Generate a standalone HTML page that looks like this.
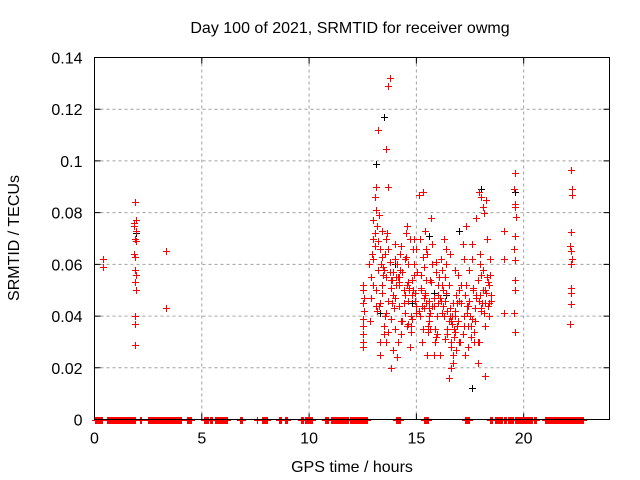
<!DOCTYPE html>
<html><head><meta charset="utf-8"><style>
body{margin:0;background:#fff;}
svg{display:block;font-family:"Liberation Sans",sans-serif;}
#red path,#black path{shape-rendering:crispEdges;}
</style></head><body>
<svg id="chart" width="640" height="480" viewBox="0 0 640 480" xmlns="http://www.w3.org/2000/svg">
<rect width="640" height="480" fill="#fff"/>
<text x="350" y="33" font-size="16" text-anchor="middle" fill="#000">Day 100 of 2021, SRMTID for receiver owmg</text>
<text transform="translate(19,238) rotate(-90)" font-size="16" text-anchor="middle" fill="#000">SRMTID / TECUs</text>
<text x="352" y="472" font-size="16" text-anchor="middle" fill="#000">GPS time / hours</text>
<g id="grid"></g>
<g id="ticks"></g>
<g id="black"></g>
<g id="red"></g>
<rect x="94.5" y="57.5" width="515" height="362" fill="none" stroke="#000" stroke-width="1"/>
</svg>
<script>
const xTicks=[0,5,10,15,20];
const yTicks=[0,0.02,0.04,0.06,0.08,0.1,0.12,0.14];
const yTickLabels=["0","0.02","0.04","0.06","0.08","0.1","0.12","0.14"];
const zeroStart=[0.0,0.6,1.55,2.1,2.5,3.0,3.85,4.3,5.1,5.4,5.6,6.8,7.55,7.8,7.9,8.0,8.6,8.9,9.6,9.8,10.75,11.0,11.3,11.9,14.05,15.35,17.25,18.45,18.65,19.1,19.25,19.4,19.6,20.2,20.5,21.0,21.85];
const zeroEnd=[0.4,1.5,1.9,2.2,3.0,3.85,4.05,4.5,5.3,5.5,6.2,6.9,7.6,7.9,7.95,8.05,8.7,9.0,9.75,10.15,10.9,11.7,11.8,12.75,14.25,15.55,17.45,18.55,19.05,19.2,19.35,19.5,20.2,20.4,20.6,21.85,22.75];
const redT=[0.4,0.4,
1.9,1.85,1.95,1.85,1.95,1.9,1.95,1.85,1.9,1.9,1.95,1.9,1.95,1.9,1.9,1.9,
3.35,3.35,
12.5,12.5,12.5,12.5,12.5,12.55,12.5,12.55,12.5,12.5,
13.75,13.7,13.2,13.6,13.05,13.1,13.7,13.05,
12.8,12.9,13.0,13.1,13.2,13.3,13.4,13.5,13.6,13.7,13.8,13.9,14.0,
12.9,13.0,13.1,13.2,13.3,13.4,13.5,13.6,13.7,13.8,13.9,14.0,
12.85,13.0,13.15,13.3,13.45,13.6,13.75,13.9,14.05,
13.1,13.25,13.4,13.55,13.7,13.85,14.0,13.3,13.5,13.8,
14.1,14.2,14.3,14.4,14.5,14.6,14.7,14.8,14.9,15.0,
14.15,14.25,14.35,14.45,14.55,14.65,14.75,14.85,14.95,
14.1,14.3,14.5,14.7,14.9,14.2,14.4,14.6,14.8,15.0,
14.3,14.6,14.9,14.45,14.75,14.2,14.55,14.85,
15.1,15.2,15.3,15.4,15.5,15.6,15.7,15.8,15.9,16.0,
15.15,15.25,15.35,15.45,15.55,15.65,15.75,15.85,15.95,
15.1,15.3,15.5,15.7,15.9,15.2,15.4,15.6,15.8,16.0,
15.3,15.6,15.9,15.45,15.75,15.35,15.65,
16.1,16.2,16.3,16.4,16.5,16.6,16.7,16.8,16.9,17.0,
16.15,16.25,16.35,16.45,16.55,16.65,16.75,16.85,16.95,
16.1,16.3,16.5,16.7,16.9,16.2,16.4,16.6,16.8,17.0,
16.5,16.6,16.7,16.55,16.45,16.35,16.8,
17.1,17.2,17.3,17.4,17.5,17.6,17.7,17.8,17.9,18.0,
17.15,17.25,17.35,17.45,17.55,17.65,17.75,17.85,17.95,
17.1,17.3,17.5,17.7,17.9,17.2,17.4,17.6,17.8,18.0,
18.1,18.2,18.3,18.4,18.5,18.1,18.25,18.4,18.15,18.35,18.45,18.2,18.3,18.5,
17.9,18.0,18.1,17.85,18.2,17.95,
13.0,13.2,13.4,13.6,13.8,14.0,14.2,14.4,14.6,14.8,15.0,15.2,15.4,15.6,15.8,16.0,16.2,16.4,16.6,16.8,17.0,17.2,17.4,17.6,17.8,18.0,18.2,18.4,
12.95,13.15,13.35,13.55,13.75,13.95,14.15,14.35,14.55,14.75,14.95,15.15,15.35,15.55,15.75,15.95,16.15,16.35,16.55,16.75,16.95,17.15,17.35,17.55,17.75,17.95,18.15,18.35,
13.05,13.45,13.85,14.25,14.65,15.05,15.45,15.85,16.25,16.65,17.05,17.45,17.85,18.25,
13.25,13.65,14.05,14.45,14.85,15.25,15.65,16.05,16.45,16.85,17.25,17.65,18.05,18.45,
19.1,19.1,19.1,19.6,19.55,19.6,19.6,19.65,19.6,19.55,19.6,19.6,19.6,19.55,19.6,
22.2,22.25,22.25,22.2,22.15,22.2,22.25,22.2,22.2,22.2,22.2,22.15];
const redV=[0.062,0.059,
0.084,0.076,0.077,0.075,0.073,0.070,0.069,0.064,0.063,0.058,0.056,0.053,0.050,0.040,0.037,0.029,
0.065,0.043,
0.028,0.030,0.033,0.036,0.039,0.042,0.045,0.047,0.050,0.052,
0.132,0.129,0.112,0.1045,0.086,0.090,0.090,0.072,
0.060,0.055,0.077,0.050,0.069,0.045,0.063,0.058,0.041,0.066,0.054,0.048,0.062,
0.047,0.062,0.044,0.058,0.066,0.052,0.036,0.070,0.046,0.039,0.057,0.035,
0.038,0.070,0.075,0.030,0.056,0.030,0.061,0.027,0.052,
0.081,0.079,0.073,0.064,0.034,0.045,0.068,0.025,0.033,0.020,
0.060,0.052,0.067,0.045,0.063,0.037,0.070,0.048,0.056,0.041,
0.030,0.064,0.057,0.041,0.075,0.050,0.034,0.066,0.046,
0.024,0.038,0.072,0.028,0.060,0.055,0.045,0.060,0.039,0.066,
0.033,0.053,0.070,0.048,0.040,0.044,0.036,0.050,
0.042,0.056,0.035,0.049,0.064,0.038,0.053,0.044,0.061,0.048,
0.070,0.030,0.059,0.045,0.034,0.054,0.068,0.030,0.040,
0.087,0.063,0.025,0.078,0.057,0.050,0.073,0.040,0.025,0.052,
0.088,0.046,0.032,0.066,0.060,0.043,0.035,
0.047,0.058,0.040,0.066,0.052,0.030,0.045,0.058,0.036,0.050,
0.062,0.044,0.055,0.035,0.064,0.040,0.032,0.048,0.056,
0.025,0.070,0.038,0.022,0.045,0.052,0.060,0.028,0.040,0.030,
0.016,0.020,0.025,0.043,0.042,0.046,0.034,
0.045,0.036,0.052,0.028,0.040,0.062,0.034,0.048,0.030,0.056,
0.068,0.025,0.044,0.058,0.032,0.050,0.038,0.022,0.060,
0.052,0.075,0.040,0.030,0.046,0.062,0.036,0.068,0.078,0.042,
0.050,0.045,0.055,0.040,0.048,0.058,0.085,0.052,0.080,0.044,0.062,0.036,0.070,0.046,
0.088,0.086,0.082,0.030,0.017,0.064,
0.052,0.058,0.049,0.055,0.051,0.047,0.053,0.050,0.046,0.054,0.044,0.051,0.048,0.043,0.047,0.045,0.041,0.049,0.038,0.042,0.046,0.040,0.044,0.039,0.047,0.043,0.050,0.045,
0.064,0.042,0.060,0.040,0.057,0.043,0.055,0.038,0.052,0.036,0.049,0.040,0.047,0.036,0.044,0.033,0.046,0.031,0.040,0.035,0.038,0.033,0.041,0.036,0.043,0.048,0.041,0.053,
0.067,0.059,0.054,0.058,0.051,0.057,0.054,0.035,0.050,0.037,0.030,0.046,0.054,0.049,
0.044,0.072,0.055,0.062,0.066,0.044,0.041,0.055,0.033,0.027,0.048,0.051,0.045,0.056,
0.073,0.062,0.041,0.0955,0.089,0.0835,0.082,0.0785,0.071,0.066,0.0615,0.054,0.050,0.041,0.034,
0.0963,0.089,0.087,0.0727,0.067,0.0653,0.062,0.060,0.051,0.049,0.0445,0.037];
const blackT=[1.95,13.1,13.5,14.0,14.8,15.6,16.4,17.6,18.0,19.6,13.3,15.8,16.6,17.0];
const blackV=[0.072,0.099,0.117,0.060,0.045,0.071,0.048,0.012,0.089,0.088,0.041,0.049,0.028,0.073];
const X0=94.5,X1=609.5,Y0=419.5,Y1=57.5,XMAX=24,YMAX=0.14;
const xs=t=>X0+(X1-X0)*t/XMAX;
const ys=v=>Y0-(Y0-Y1)*v/YMAX;
const NS="http://www.w3.org/2000/svg";
const grid=document.getElementById('grid'),ticks=document.getElementById('ticks');
function mk(tag,attrs,parent){const e=document.createElementNS(NS,tag);for(const k in attrs)e.setAttribute(k,attrs[k]);parent.appendChild(e);return e;}
xTicks.forEach(t=>{const x=xs(t);
 if(t>0){const g=mk('line',{x1:x,x2:x,y1:Y1,y2:Y0,stroke:'#a0a0a0','stroke-dasharray':'3,3'},grid);
 
 }
 const tk=mk('path',{d:`M${x} ${Y0}v-6M${x} ${Y1}v6`,stroke:'#000'},ticks);
 
 
 const l=mk('text',{x:x,y:Y0+24,'font-size':16,'text-anchor':'middle',fill:'#000'},ticks);l.textContent=t;
 
 });
yTicks.forEach((v,i)=>{const y=ys(v);
 if(v>0&&v<YMAX){const g=mk('line',{x1:X0,x2:X1,y1:y,y2:y,stroke:'#a0a0a0','stroke-dasharray':'3,3'},grid);
 
 }
 const tk=mk('path',{d:`M${X0} ${y}h6M${X1} ${y}h-6`,stroke:'#000'},ticks);
 
 
 const l=mk('text',{x:X0-12,y:y+6,'font-size':16,'text-anchor':'end',fill:'#000'},ticks);l.textContent=yTickLabels[i];
 
 });
function plus(g,t,v,c){const x=Math.round(xs(t))+0.5,y=Math.round(ys(v))+0.5;
 const p=mk('path',{d:`M${x-3.5} ${y}h7M${x} ${y-3.5}v7`,stroke:c,'stroke-width':1},g);
 
 }
const bg=document.getElementById('black'),rg=document.getElementById('red');
blackT.forEach((t,i)=>plus(bg,t,blackV[i],'#000'));
zeroStart.forEach((s,i)=>{for(let t=s;t<=zeroEnd[i]+1e-9;t+=0.045)plus(rg,t,0,'#f00');});
redT.forEach((t,i)=>plus(rg,t,redV[i],'#f00'));
</script>
</body></html>
